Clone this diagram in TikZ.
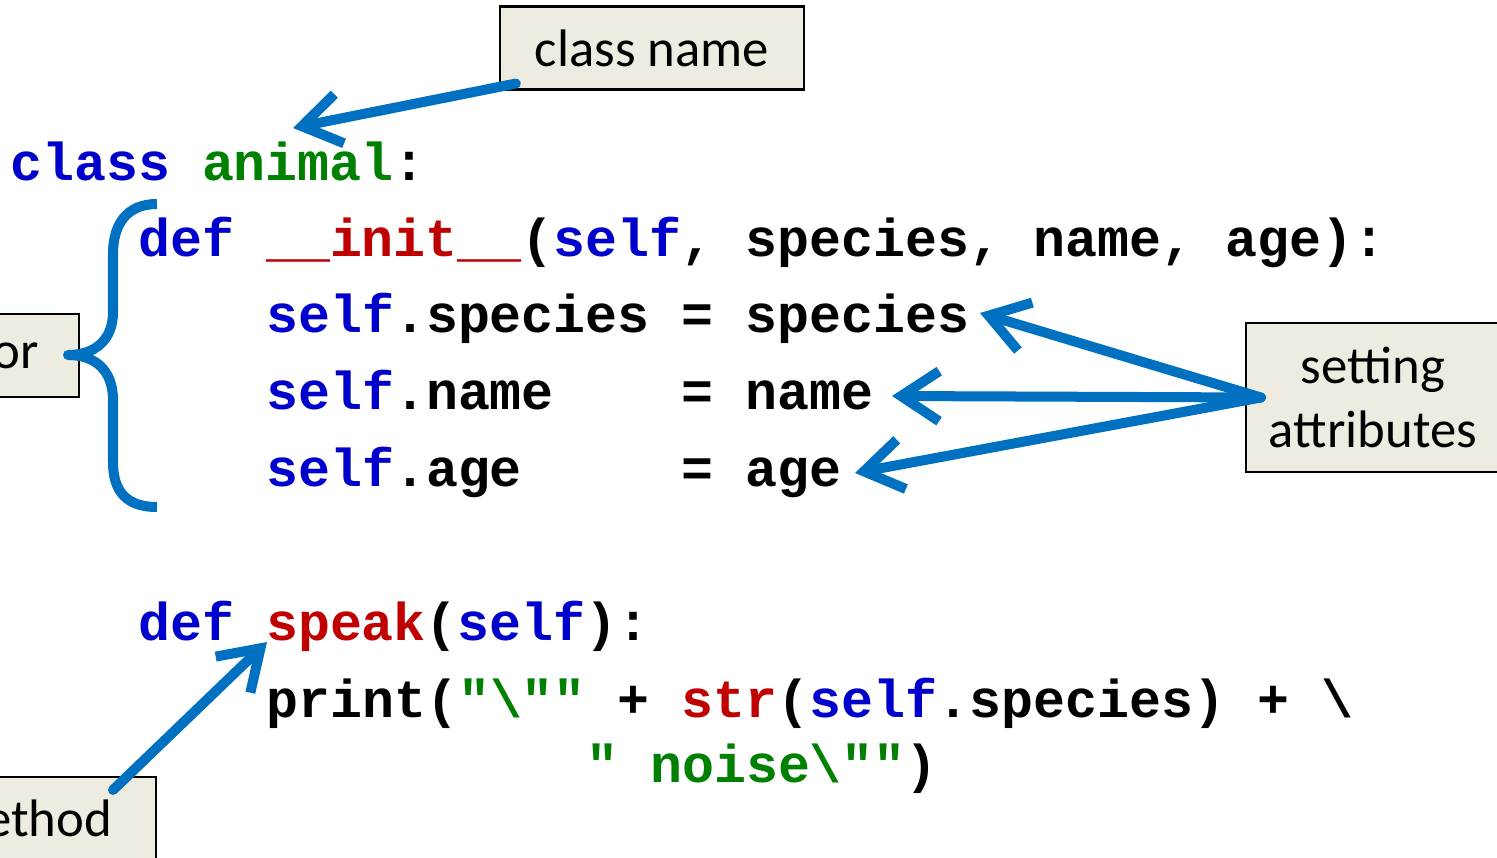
\documentclass[tikz,border=0pt]{standalone}
\usepackage{fontspec}
\setmainfont{Carlito}
\newfontfamily\codefont{Liberation Mono}[Ligatures=TeXOff]
\usetikzlibrary{arrows.meta, calc}
\definecolor{kwblue}{RGB}{0,0,204}
\definecolor{fnred}{RGB}{192,0,0}
\definecolor{strgreen}{RGB}{0,128,0}
\definecolor{arrowblue}{RGB}{0,112,192}
\definecolor{notefill}{RGB}{238,236,225}
\newcommand{\pykw}[1]{\textcolor{kwblue}{#1}}
\newcommand{\pyfn}[1]{\textcolor{fnred}{#1}}
\newcommand{\pystr}[1]{\textcolor{strgreen}{#1}}
\tikzset{
  note/.style={draw=black, line width=0.6pt, fill=notefill, inner sep=0pt,
    minimum height=0.83cm, font=\fontsize{15}{18}\selectfont},
  codeline/.style={anchor=base west, inner sep=0pt,
    font=\codefont\bfseries\fontsize{15.15}{18}\selectfont},
  callout/.style={draw=arrowblue, line width=0.1cm, line cap=round,
    -{Straight Barb[length=0.38cm, width=0.5cm]}},
}

\begin{document}
\begin{tikzpicture}[x=0.01cm, y=-0.01cm]
\useasboundingbox (0,0) rectangle (1497,858);

% Code lines
\node[codeline] (l1) at (9.5,181) {\pykw{class}~\pystr{animal}:};
\node[codeline] (l2) at (137.5,257) {\pykw{def}~\pyfn{\_\_init\_\_}(\pykw{self},~species,~name,~age):};
\node[codeline] (l3) at (265.5,333) {\pykw{self}.species~=~species};
\node[codeline] (l4) at (265.5,409.5) {\pykw{self}.name~~~~=~name};
\node[codeline] (l5) at (265.5,486) {\pykw{self}.age~~~~~=~age};
\node[codeline] (l6) at (137.5,640) {\pykw{def}~\pyfn{speak}(\pykw{self}):};
\node[codeline] (l7) at (265.5,717) {print(\pystr{"\textbackslash""}~+~\pyfn{str}(\pykw{self}.species)~+~\textbackslash};
\node[codeline] (l8) at (585.5,782) {\pystr{"~noise\textbackslash""})};

% Notes
\node[note, minimum width=3.04cm] (cn) at (652,48) {class name};
\node[note, minimum width=2.54cm, minimum height=1.49cm, align=center] (attr) at (1373,397.5) {setting\\attributes};
\node[note, anchor=east, text width=2cm, align=right, inner xsep=0.4cm] (cons) at (80,355.5) {or};
\node[note, anchor=north east, text width=2cm, align=right, inner xsep=0.44cm] (meth) at (157,776) {ethod};

% Arrow ends
\coordinate (animaltip) at (293,128);
\coordinate (speciestip) at (980,313);
\coordinate (nametip) at (892,396);
\coordinate (agetip) at (855,473);
\coordinate (speaktip) at (267,642);

% Arrows
\draw[callout] ($(cn.south west)+(17,-7)$) -- (animaltip);
\draw[callout] ($(attr.west)+(16,0)$) -- (speciestip);
\draw[callout] ($(attr.west)+(16,0)$) -- (nametip);
\draw[callout] ($(attr.west)+(16,0)$) -- (agetip);
\draw[callout] ($(meth.north east)+(-44,14)$) -- (speaktip);

% Brace
\draw[arrowblue, line width=0.1cm, line join=round] (157,204)
  .. controls (127,204) and (113,224) .. (113,254) -- (113,312)
  .. controls (113,340) and (95,355) .. (68,355)
  .. controls (95,355) and (113,370) .. (113,400) -- (113,462)
  .. controls (113,492) and (127,507) .. (157,507);
\end{tikzpicture}
\end{document}
